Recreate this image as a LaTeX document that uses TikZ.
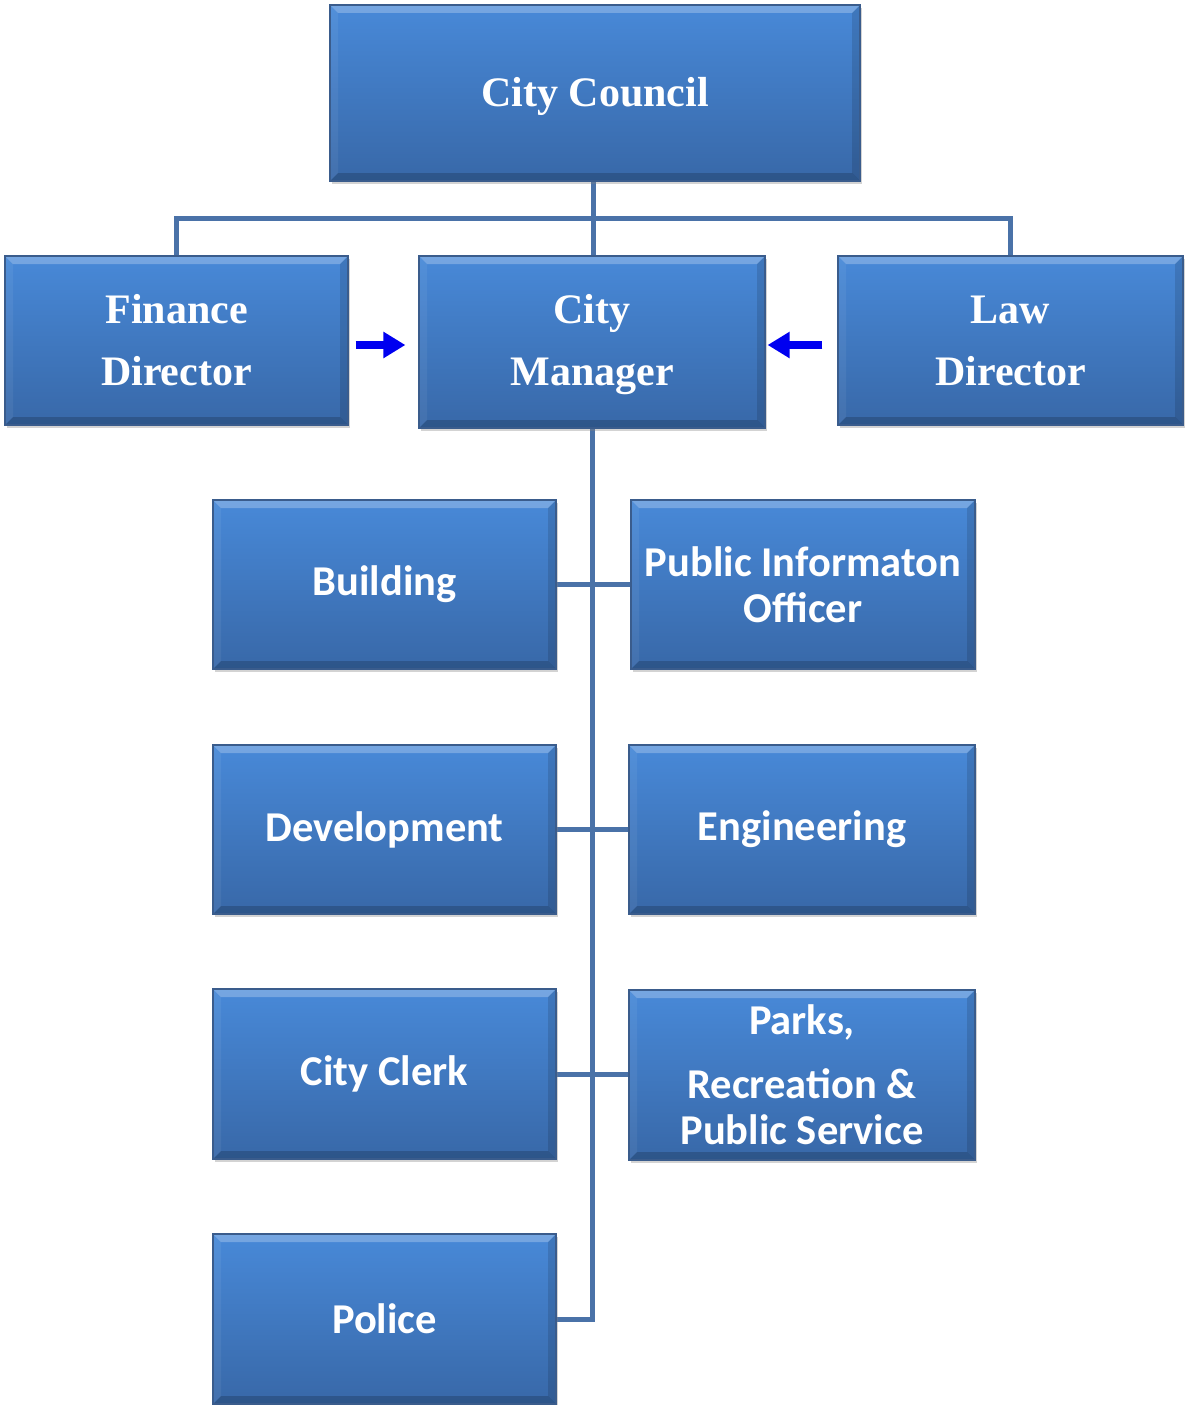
\documentclass[tikz,border=0pt]{standalone}
\usepackage{fontspec}
\setmainfont{Liberation Serif}
\newfontfamily\calib{Carlito}
\usetikzlibrary{arrows.meta,shadows,calc,backgrounds}
\definecolor{boxtop}{RGB}{72,137,216}
\definecolor{boxbot}{RGB}{56,104,168}
\definecolor{boxedge}{RGB}{58,92,140}
\definecolor{linkcol}{RGB}{74,114,168}
\definecolor{arrowblue}{RGB}{0,0,240}
\newcommand{\lowertext}[1]{\raisebox{-3pt}[\height][\depth]{#1}}
\tikzset{
  orgbox/.style={rectangle, draw=boxedge, line width=1.2pt, top color=boxtop, bottom color=boxbot,
    text=white, align=center, inner sep=0pt,
    drop shadow={opacity=0.35, shadow xshift=2pt, shadow yshift=-3pt},
    path picture={
      \fill[white,opacity=0.25] (path picture bounding box.north west) -- (path picture bounding box.north east)
        -- ([xshift=-8pt,yshift=-8pt]path picture bounding box.north east) -- ([xshift=8pt,yshift=-8pt]path picture bounding box.north west) -- cycle;
      \fill[black,opacity=0.18] (path picture bounding box.south west) -- (path picture bounding box.south east)
        -- ([xshift=-8pt,yshift=8pt]path picture bounding box.south east) -- ([xshift=8pt,yshift=8pt]path picture bounding box.south west) -- cycle;
      \fill[black,opacity=0.12] (path picture bounding box.north east) -- (path picture bounding box.south east)
        -- ([xshift=-8pt,yshift=8pt]path picture bounding box.south east) -- ([xshift=-8pt,yshift=-8pt]path picture bounding box.north east) -- cycle;
      \fill[white,opacity=0.06] (path picture bounding box.north west) -- (path picture bounding box.south west)
        -- ([xshift=8pt,yshift=8pt]path picture bounding box.south west) -- ([xshift=8pt,yshift=-8pt]path picture bounding box.north west) -- cycle;
    }},
  serifbox/.style={orgbox, font=\bfseries\fontsize{42}{62}\selectfont},
  sansbox/.style={orgbox, font=\calib\bfseries\fontsize{42.5}{46}\selectfont},
  link/.style={draw=linkcol, line width=5pt},
  sidearrow/.style={draw=arrowblue, line width=8pt, -{Triangle[length=22pt,width=25pt]}}
}
\begin{document}
\begin{tikzpicture}[x=1pt,y=-1pt]
\useasboundingbox (0,0) rectangle (1185,1405);
% top level
\node[serifbox, minimum width=530pt, minimum height=176pt] (council) at (595,93) {\lowertext{City Council}};
\node[serifbox, minimum width=343pt, minimum height=169pt] (finance) at (176.5,340.5) {Finance\\Director};
\node[serifbox, minimum width=346pt, minimum height=172pt] (manager) at (592,342) {\lowertext{City}\\\lowertext{Manager}};
\node[serifbox, minimum width=345pt, minimum height=169pt] (law) at (1010.5,340.5) {Law\\Director};
% departments
\node[sansbox, minimum width=343pt, minimum height=169pt] (building) at (384.5,584.5) {Building};
\node[sansbox, minimum width=344pt, minimum height=169pt] (pio) at (803,584.5) {Public Informaton\\Officer};
\node[sansbox, minimum width=343pt, minimum height=169pt] (development) at (384.5,829.5) {Development};
\node[sansbox, minimum width=346pt, minimum height=169pt] (engineering) at (802,829.5) {Engineering};
\node[sansbox, minimum width=343pt, minimum height=170pt] (clerk) at (384.5,1074) {City Clerk};
\node[sansbox, minimum width=346pt, minimum height=170pt] (parks) at (802,1075) {Parks,\\[18pt]Recreation \&\\Public Service};
\node[sansbox, minimum width=343pt, minimum height=170pt] (police) at (384.5,1319) {Police};
% connectors
\coordinate (bar) at (593,218);
\coordinate (spineend) at (592,1319);
\begin{scope}[on background layer]
\draw[link] (council.south -| bar) -- (bar |- manager.north);
\draw[link] (finance.north) |- (bar) -| (law.north);
\draw[link] (manager.south) -- (spineend) -- (police.east);
\draw[link] (building.east) -- (pio.west);
\draw[link] (development.east) -- (engineering.west);
\draw[link] (clerk.east) -- (clerk.east -| parks.west);
\end{scope}
% side arrows
\draw[sidearrow] ([xshift=7pt,yshift=-4.5pt]finance.east) -- ([xshift=-13pt,yshift=-4.5pt]manager.west |- finance.east);
\draw[sidearrow] ([xshift=-15pt,yshift=-4.5pt]law.west) -- ([xshift=2pt,yshift=-4.5pt]manager.east |- law.west);
\end{tikzpicture}
\end{document}
